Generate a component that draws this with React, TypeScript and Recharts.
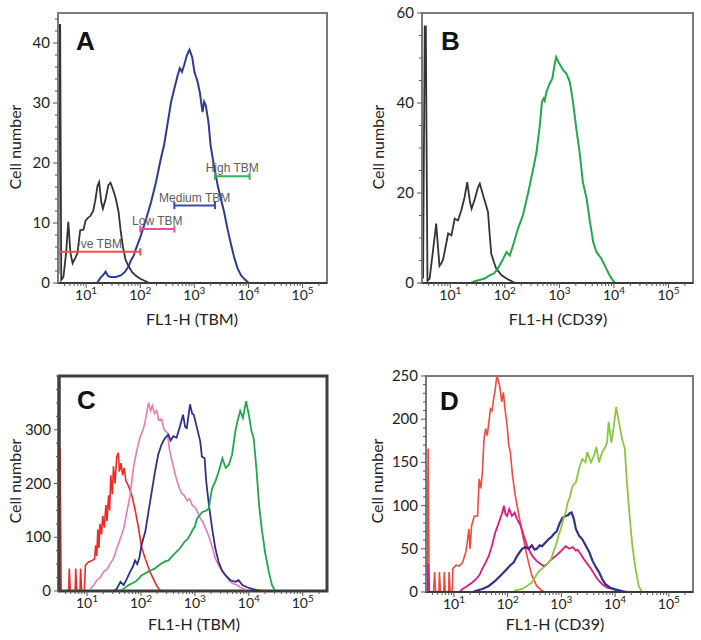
import React from "react";
import { LineChart, Line, XAxis, YAxis, ReferenceArea, ReferenceLine } from "recharts";

const FONT = "Lato, 'Open Sans', sans-serif";
const XMIN = 0.48;
const XMAX = 5.45;

// x positions are log10(FL1-H); labels drawn as 10^n
const DECADES = [1, 2, 3, 4, 5];
const DECADE_EXP = ["1", "2", "3", "4", "5"];

// [log10(FL1-H), cell number]
const A_CONTROL: [number, number][] = [
  [0.49, 1.5], [0.5, 43], [0.52, 43], [0.54, 0.5], [0.58, 1], [0.63, 5], [0.67, 10.2], [0.71, 5],
  [0.75, 3.3], [0.8, 4.2], [0.84, 5], [0.89, 8.8], [0.95, 8.9], [0.99, 10.4], [1.03, 10.8],
  [1.08, 11.2], [1.13, 12], [1.17, 13.8], [1.21, 16.2], [1.24, 16.8], [1.28, 13.5], [1.31, 12.4],
  [1.36, 14], [1.41, 16.3], [1.45, 16.7], [1.5, 15.5], [1.55, 14], [1.6, 11.8], [1.64, 8.5],
  [1.68, 6], [1.73, 3.8], [1.79, 2.7], [1.85, 1.8], [1.92, 1.2], [2.0, 0.7], [2.1, 0.3], [2.17, 0],
];
const A_TBM: [number, number][] = [
  [1.2, 0], [1.26, 0.8], [1.32, 1.4], [1.36, 1.9], [1.4, 1.2], [1.45, 1.0], [1.55, 1.0], [1.65, 1.3],
  [1.72, 1.9], [1.78, 2.7], [1.83, 3.8], [1.88, 4.6], [1.92, 5.7], [2.0, 7.6], [2.05, 9], [2.11, 10.7],
  [2.2, 13.5], [2.29, 16.8], [2.38, 20.7], [2.44, 23], [2.48, 25.2], [2.57, 30.2], [2.63, 32.4],
  [2.69, 34.6], [2.73, 35.8], [2.77, 35.2], [2.81, 36.3], [2.86, 37.9], [2.91, 38.9], [2.96, 37.6],
  [3.0, 35.2], [3.06, 33.5], [3.1, 31.8], [3.15, 28.5], [3.18, 30.2], [3.21, 29.6], [3.26, 26.8],
  [3.3, 22.9], [3.37, 19.1], [3.43, 16.3], [3.49, 14], [3.55, 11.8], [3.61, 9.1], [3.68, 6.3],
  [3.74, 4.1], [3.8, 2.4], [3.86, 1.3], [3.92, 0.7], [3.98, 0.2], [4.01, 0],
];

// gates drawn on panel A
const GATE_NAMES = ["-ve TBM", "Low TBM", "Medium TBM", "High TBM"];
const GATE_FROM = [0.49, 2.0, 2.63, 3.38];
const GATE_TO = [2.0, 2.63, 3.38, 4.02];
const GATE_Y = [5.2, 9, 12.9, 17.8];
const GATE_COLORS = ["#f04e45", "#ec4fa0", "#3c4aa0", "#2fb457"];

const B_CONTROL: [number, number][] = [
  [0.5, 1], [0.53, 57], [0.55, 57], [0.58, 0.5], [0.62, 1], [0.68, 7], [0.74, 13.2], [0.8, 3.8],
  [0.84, 4.5], [0.87, 5.4], [0.92, 8.5], [0.96, 11], [1.02, 10.6], [1.08, 14.3], [1.14, 13.9],
  [1.2, 16.1], [1.26, 19], [1.31, 22.4], [1.36, 18], [1.39, 16.5], [1.45, 18.7], [1.5, 21],
  [1.54, 22.1], [1.6, 19.5], [1.65, 17.5], [1.69, 15.8], [1.72, 11], [1.75, 6.5], [1.8, 4.6],
  [1.84, 3.2], [1.94, 1.7], [2.03, 1], [2.15, 0.2], [2.21, 0],
];
const B_CD39: [number, number][] = [
  [1.37, 0], [1.45, 0.4], [1.63, 1], [1.72, 1.7], [1.8, 2.1], [1.87, 3.2], [1.97, 5.4], [2.03, 6.9],
  [2.09, 6.1], [2.15, 8.4], [2.24, 12.1], [2.33, 15], [2.43, 20.2], [2.52, 25.4], [2.58, 29.1],
  [2.64, 35], [2.68, 40.2], [2.71, 41], [2.73, 40.5], [2.76, 42.4], [2.82, 44.3], [2.87, 45.4],
  [2.91, 48.4], [2.94, 50.2], [3.0, 48.7], [3.07, 47.3], [3.13, 46.5], [3.19, 44.7], [3.25, 40.2],
  [3.31, 34.3], [3.37, 29.1], [3.43, 22.4], [3.5, 18.7], [3.56, 13.6], [3.62, 9.1], [3.68, 6.9],
  [3.77, 5.4], [3.86, 3.2], [3.92, 1.7], [3.98, 0.6], [4.02, 0],
];

const C_NEG: [number, number][] = [
  [0.49, 0], [0.5, 265], [0.52, 0], [0.66, 0], [0.67, 42], [0.69, 0], [0.78, 0], [0.79, 42], [0.81, 0],
  [0.87, 0], [0.88, 42], [0.9, 0], [0.95, 0], [0.97, 48], [1.03, 54], [1.1, 57], [1.14, 60], [1.16, 85],
  [1.18, 65], [1.2, 115], [1.22, 80], [1.24, 125], [1.27, 105], [1.29, 140], [1.32, 118], [1.35, 160],
  [1.37, 130], [1.4, 178], [1.42, 150], [1.44, 215], [1.47, 180], [1.49, 232], [1.52, 200], [1.55, 250],
  [1.58, 257], [1.6, 222], [1.63, 238], [1.66, 215], [1.69, 229], [1.72, 205], [1.77, 195], [1.83, 178],
  [1.89, 152], [1.95, 120], [2.01, 82], [2.08, 60], [2.17, 35], [2.29, 10], [2.36, 0], [3.3, 0],
];
const C_LOW: [number, number][] = [
  [1.0, 0], [1.06, 4], [1.12, 10], [1.18, 20], [1.25, 26], [1.31, 36], [1.37, 40], [1.43, 51], [1.49, 60],
  [1.55, 79], [1.62, 98], [1.68, 116], [1.74, 148], [1.8, 179], [1.86, 229], [1.92, 260], [1.98, 285],
  [2.05, 303], [2.09, 322], [2.14, 350], [2.18, 335], [2.21, 345], [2.25, 330], [2.29, 336], [2.33, 318],
  [2.38, 320], [2.43, 300], [2.49, 294], [2.53, 262], [2.58, 240], [2.64, 215], [2.7, 195], [2.75, 182],
  [2.8, 178], [2.86, 168], [2.9, 172], [2.95, 160], [3.01, 154], [3.06, 145], [3.1, 135], [3.15, 128],
  [3.2, 116], [3.25, 104], [3.29, 92], [3.34, 75], [3.38, 60], [3.43, 50], [3.47, 42], [3.52, 35],
  [3.57, 29], [3.62, 22], [3.66, 17], [3.72, 13], [3.78, 11], [3.84, 7], [3.9, 4], [4.0, 1], [4.05, 0],
];
const C_MED: [number, number][] = [
  [1.5, 0], [1.55, 4], [1.62, 17], [1.68, 11], [1.74, 23], [1.8, 36], [1.85, 45], [1.89, 57], [1.93, 50],
  [1.97, 62], [2.01, 85], [2.05, 100], [2.08, 110], [2.14, 148], [2.2, 185], [2.26, 222], [2.32, 254],
  [2.38, 272], [2.42, 280], [2.45, 285], [2.51, 291], [2.55, 280], [2.6, 288], [2.66, 285], [2.72, 305],
  [2.78, 328], [2.82, 305], [2.85, 303], [2.91, 347], [2.95, 330], [2.98, 328], [3.04, 303], [3.1, 278],
  [3.13, 250], [3.18, 247], [3.21, 204], [3.26, 160], [3.32, 116], [3.38, 79], [3.44, 54], [3.5, 39],
  [3.57, 29], [3.66, 20], [3.75, 17], [3.81, 20], [3.88, 11], [3.97, 7], [4.06, 4], [4.18, 1], [4.27, 0],
];
const C_HIGH: [number, number][] = [
  [1.6, 0], [1.68, 4], [1.77, 11], [1.83, 14], [1.89, 17], [1.95, 22], [2.01, 29], [2.08, 33], [2.14, 36],
  [2.2, 39], [2.26, 42], [2.32, 47], [2.38, 51], [2.45, 55], [2.51, 57], [2.57, 64], [2.63, 70], [2.68, 75],
  [2.72, 79], [2.77, 86], [2.81, 92], [2.86, 96], [2.91, 104], [2.96, 114], [3.0, 120], [3.04, 135],
  [3.09, 141], [3.13, 146], [3.16, 148], [3.22, 150], [3.26, 154], [3.29, 175], [3.32, 191], [3.38, 204],
  [3.44, 222], [3.51, 247], [3.57, 229], [3.63, 235], [3.69, 254], [3.75, 297], [3.79, 316], [3.84, 335],
  [3.89, 322], [3.95, 353], [4.0, 328], [4.05, 297], [4.09, 285], [4.14, 229], [4.19, 160], [4.24, 116],
  [4.3, 73], [4.37, 36], [4.43, 11], [4.49, 0], [5.45, 0],
];

const D_NEG: [number, number][] = [
  [0.5, 0], [0.52, 166], [0.54, 0], [0.62, 0], [0.64, 23], [0.66, 0], [0.72, 0], [0.73, 23], [0.75, 0],
  [0.81, 0], [0.82, 23], [0.84, 0], [0.9, 0], [0.91, 23], [0.93, 0], [0.97, 0], [0.98, 27], [1.04, 31],
  [1.1, 30], [1.16, 34], [1.22, 46], [1.25, 58], [1.28, 73], [1.3, 50], [1.33, 77], [1.38, 88], [1.44, 88],
  [1.47, 131], [1.5, 120], [1.53, 139], [1.56, 177], [1.59, 189], [1.62, 181], [1.68, 212], [1.71, 210],
  [1.74, 224], [1.77, 235], [1.8, 251], [1.85, 239], [1.89, 220], [1.92, 231], [1.95, 212], [1.99, 193],
  [2.02, 170], [2.05, 162], [2.09, 135], [2.14, 112], [2.2, 92], [2.27, 69], [2.33, 50], [2.39, 34],
  [2.45, 19], [2.54, 7], [2.64, 1.5], [2.7, 0], [3.5, 0],
];
const D_LOW: [number, number][] = [
  [0.5, 0], [0.52, 33], [0.54, 0], [1.1, 0], [1.16, 3.5], [1.25, 7], [1.34, 11], [1.41, 15], [1.47, 19],
  [1.53, 27], [1.59, 34], [1.65, 42], [1.71, 54], [1.77, 69], [1.84, 81], [1.9, 92], [1.93, 100],
  [1.96, 90], [1.99, 88], [2.03, 96], [2.08, 88], [2.13, 92], [2.17, 85], [2.24, 77], [2.3, 65],
  [2.36, 54], [2.42, 46], [2.48, 40], [2.54, 36], [2.6, 33], [2.67, 30], [2.73, 32], [2.8, 37],
  [2.86, 40], [2.92, 43], [2.97, 46], [3.03, 50], [3.08, 53], [3.15, 50], [3.21, 52], [3.27, 48],
  [3.3, 49], [3.36, 44], [3.42, 38], [3.49, 32], [3.55, 27], [3.61, 21], [3.67, 15], [3.76, 9],
  [3.85, 5], [3.95, 3.5], [4.04, 1.5], [4.13, 0],
];
const D_MED: [number, number][] = [
  [1.35, 0], [1.41, 1.5], [1.53, 3.5], [1.65, 7], [1.77, 13], [1.87, 19], [1.96, 25], [2.05, 31],
  [2.11, 34], [2.16, 40], [2.2, 44], [2.27, 50], [2.33, 52], [2.39, 50], [2.45, 54], [2.5, 49],
  [2.54, 50], [2.6, 54], [2.64, 53], [2.7, 57], [2.76, 61], [2.82, 64], [2.87, 68], [2.91, 70],
  [2.97, 80], [3.02, 86], [3.08, 88], [3.13, 89], [3.15, 91], [3.19, 92], [3.23, 85], [3.27, 73],
  [3.33, 65], [3.39, 61], [3.45, 54], [3.52, 46], [3.58, 36], [3.64, 29], [3.7, 23], [3.76, 15],
  [3.82, 9], [3.91, 5], [4.0, 3], [4.13, 1], [4.22, 0],
];
const D_HIGH: [number, number][] = [
  [2.1, 0], [2.14, 1.5], [2.27, 3.5], [2.36, 7], [2.45, 11], [2.51, 17], [2.57, 23], [2.64, 27],
  [2.7, 30], [2.76, 34], [2.81, 38], [2.85, 46], [2.9, 54], [2.95, 66], [2.99, 73], [3.04, 85],
  [3.08, 92], [3.12, 104], [3.15, 108], [3.18, 116], [3.21, 123], [3.27, 127], [3.33, 143], [3.39, 154],
  [3.45, 150], [3.48, 162], [3.55, 150], [3.61, 158], [3.65, 168], [3.7, 150], [3.76, 162], [3.82, 168],
  [3.85, 173], [3.88, 197], [3.93, 173], [3.97, 189], [4.02, 214], [4.07, 197], [4.13, 177],
  [4.18, 166], [4.22, 127], [4.27, 88], [4.32, 54], [4.38, 27], [4.44, 7], [4.5, 0], [5.45, 0],
];

// log-axis tick positions: decades plus the 2..9 minor ticks
const X_TICKS: number[] = [];
for (let n = 0; n <= 5; n++) {
  for (let k = 1; k <= 9; k++) {
    const v = n + Math.log10(k);
    if (v >= XMIN && v <= XMAX) X_TICKS.push(k === 1 ? n : v);
  }
}

const rows = (pts: [number, number][]) => pts.map(([x, y]) => ({ x, y }));

function XTick(props: any) {
  const { x, y, payload } = props;
  const i = DECADES.indexOf(payload.value);
  const major = i >= 0;
  return (
    <g>
      <line x1={x} x2={x} y1={y} y2={y + (major ? 5 : 3)} stroke="#555" strokeWidth={1} />
      {major && (
        <text x={x} y={y + 17} textAnchor="middle" fontFamily={FONT} fontSize={14} fill="#222">
          10
          <tspan dy={-6} fontSize={10}>
            {DECADE_EXP[i]}
          </tspan>
        </text>
      )}
    </g>
  );
}

function makeYTick(majors: number[]) {
  return (props: any) => {
    const { x, y, payload } = props;
    const major = majors.includes(payload.value);
    return (
      <g>
        <line x1={x - (major ? 5 : 3)} x2={x} y1={y} y2={y} stroke="#555" strokeWidth={1} />
        {major && (
          <text x={x - 8} y={y + 5} textAnchor="end" fontFamily={FONT} fontSize={15} fill="#222">
            {payload.value}
          </text>
        )}
      </g>
    );
  };
}

type Series = { pts: [number, number][]; color: string; width: number };
type Box = { x0: number; x1: number; y0: number; y1: number };

const AXW = 60;
const AXH = 50;
const PT = 10;
const PR = 8;

function Panel(p: {
  box: Box;
  ymax: number;
  majors: number[];
  minorStep: number;
  frame: string;
  frameWidth: number;
  series: Series[];
  extra?: React.ReactNode;
}) {
  const { box, ymax, majors, minorStep } = p;
  const yTicks: number[] = [];
  for (let v = 0; v <= ymax + 1e-9; v += minorStep) yTicks.push(v);
  const w = box.x1 - box.x0 + AXW + PR;
  const h = box.y1 - box.y0 + PT + AXH;
  return (
    <div style={{ position: "absolute", left: box.x0 - AXW, top: box.y0 - PT }}>
      <LineChart width={w} height={h} margin={{ top: PT, right: PR, left: 0, bottom: 0 }}>
        <XAxis
          type="number"
          dataKey="x"
          domain={[XMIN, XMAX]}
          allowDataOverflow
          ticks={X_TICKS}
          interval={0}
          tick={(t: any) => <XTick {...t} />}
          tickLine={false}
          tickSize={0}
          tickMargin={0}
          height={AXH}
          axisLine={{ stroke: "#3a3a3a", strokeWidth: 2 }}
        />
        <YAxis
          type="number"
          dataKey="y"
          domain={[0, ymax]}
          allowDataOverflow
          ticks={yTicks}
          interval={0}
          tick={makeYTick(majors)}
          tickLine={false}
          tickSize={0}
          tickMargin={0}
          width={AXW}
          axisLine={{ stroke: p.frame, strokeWidth: p.frameWidth }}
        />
        <ReferenceArea
          x1={XMIN}
          x2={XMAX}
          y1={0}
          y2={ymax}
          fill="none"
          stroke={p.frame}
          strokeWidth={p.frameWidth}
          ifOverflow="visible"
        />
        {p.series.map((s, i) => (
          <Line
            key={i}
            data={rows(s.pts)}
            dataKey="y"
            type="linear"
            stroke={s.color}
            strokeWidth={s.width}
            dot={false}
            activeDot={false}
            isAnimationActive={false}
          />
        ))}
        {p.extra}
      </LineChart>
    </div>
  );
}

const gateLines = GATE_NAMES.flatMap((name, i) => {
  const c = GATE_COLORS[i];
  const y = GATE_Y[i];
  return [
    <ReferenceLine
      key={`g${i}`}
      segment={[{ x: GATE_FROM[i], y }, { x: GATE_TO[i], y }]}
      stroke={c}
      strokeWidth={2}
      ifOverflow="visible"
      label={{ value: name, position: "top", offset: 4, fill: "#5c5c5c", fontSize: 12, fontFamily: "'Liberation Sans', Arial, sans-serif" }}
    />,
    <ReferenceLine
      key={`l${i}`}
      segment={[{ x: GATE_FROM[i], y: y - 0.6 }, { x: GATE_FROM[i], y: y + 0.6 }]}
      stroke={c}
      strokeWidth={2}
      ifOverflow="visible"
    />,
    <ReferenceLine
      key={`r${i}`}
      segment={[{ x: GATE_TO[i], y: y - 0.6 }, { x: GATE_TO[i], y: y + 0.6 }]}
      stroke={c}
      strokeWidth={2}
      ifOverflow="visible"
    />,
  ];
});

const titleStyle = { fontFamily: FONT, fontSize: 16, fill: "#222" };
const letterStyle = { fontFamily: "'Liberation Sans', Arial, sans-serif", fontSize: 26, fontWeight: 700, fill: "#111" };

export default function App() {
  return (
    <div style={{ position: "absolute", left: 0, top: 0, width: 701, height: 640, background: "#fff" }}>
      <Panel
        box={{ x0: 58, x1: 327, y0: 13, y1: 283 }}
        ymax={45}
        majors={[0, 10, 20, 30, 40]}
        minorStep={2}
        frame="#7a7a7a"
        frameWidth={2}
        series={[
          { pts: A_CONTROL, color: "#333333", width: 1.8 },
          { pts: A_TBM, color: "#2e3a94", width: 2 },
        ]}
        extra={gateLines}
      />
      <Panel
        box={{ x0: 422, x1: 693, y0: 13, y1: 283 }}
        ymax={60}
        majors={[0, 20, 40, 60]}
        minorStep={5}
        frame="#7a7a7a"
        frameWidth={2}
        series={[
          { pts: B_CONTROL, color: "#333333", width: 1.8 },
          { pts: B_CD39, color: "#22a94f", width: 2 },
        ]}
      />
      <Panel
        box={{ x0: 59, x1: 327, y0: 376, y1: 591 }}
        ymax={400}
        majors={[0, 100, 200, 300]}
        minorStep={25}
        frame="#404040"
        frameWidth={3}
        series={[
          { pts: C_NEG, color: "#ee2a24", width: 1.6 },
          { pts: C_LOW, color: "#f077b0", width: 1.6 },
          { pts: C_MED, color: "#2e3192", width: 1.8 },
          { pts: C_HIGH, color: "#1fa84a", width: 1.8 },
        ]}
      />
      <Panel
        box={{ x0: 426, x1: 693, y0: 376, y1: 592 }}
        ymax={250}
        majors={[0, 50, 100, 150, 200, 250]}
        minorStep={10}
        frame="#7a7a7a"
        frameWidth={2}
        series={[
          { pts: D_NEG, color: "#f04a3a", width: 1.6 },
          { pts: D_LOW, color: "#e2197c", width: 1.8 },
          { pts: D_MED, color: "#2e3192", width: 2.2 },
          { pts: D_HIGH, color: "#8cc63e", width: 1.8 },
        ]}
      />
      <svg width={701} height={640} style={{ position: "absolute", left: 0, top: 0, pointerEvents: "none" }}>
        <text x={76} y={50} style={letterStyle}>A</text>
        <text x={441} y={50} style={letterStyle}>B</text>
        <text x={77} y={409} style={letterStyle}>C</text>
        <text x={440} y={410} style={letterStyle}>D</text>
        <text transform="translate(21,147) rotate(-90)" textAnchor="middle" style={titleStyle}>Cell number</text>
        <text transform="translate(384,147) rotate(-90)" textAnchor="middle" style={titleStyle}>Cell number</text>
        <text transform="translate(21,481) rotate(-90)" textAnchor="middle" style={titleStyle}>Cell number</text>
        <text transform="translate(383,481) rotate(-90)" textAnchor="middle" style={titleStyle}>Cell number</text>
        <text x={192} y={325} textAnchor="middle" style={titleStyle}>FL1-H (TBM)</text>
        <text x={558} y={325} textAnchor="middle" style={titleStyle}>FL1-H (CD39)</text>
        <text x={194} y={630} textAnchor="middle" style={titleStyle}>FL1-H (TBM)</text>
        <text x={555} y={630} textAnchor="middle" style={titleStyle}>FL1-H (CD39)</text>
      </svg>
    </div>
  );
}
